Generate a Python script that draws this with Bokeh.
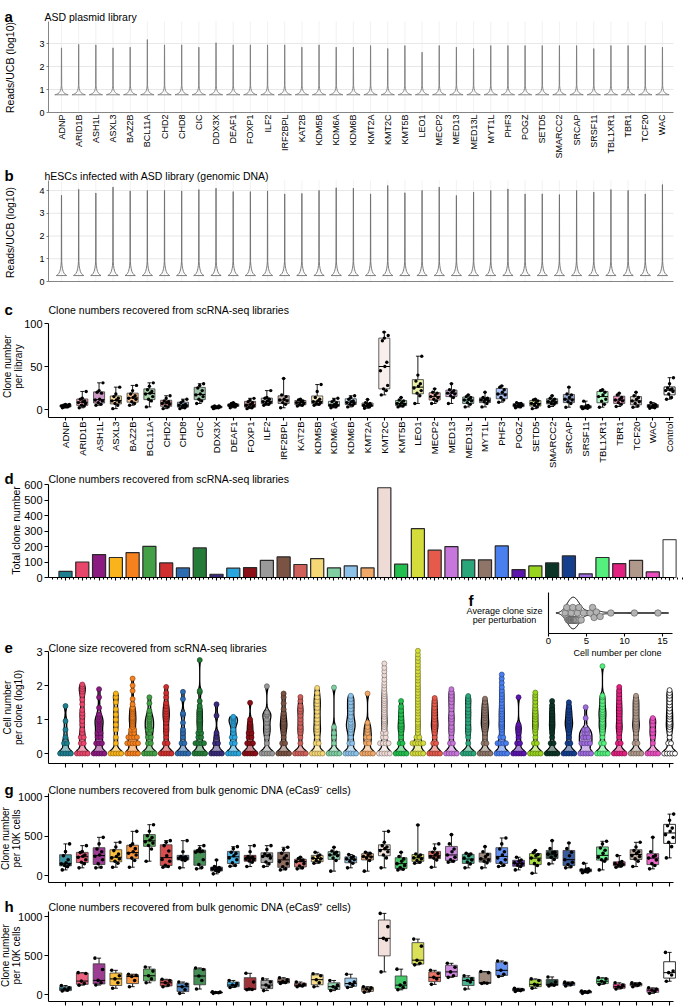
import math
import numpy as np
from bokeh.plotting import figure
from bokeh.models import Range1d, FixedTicker, Label, LinearAxis
from bokeh.layouts import column
from bokeh.embed import file_html
from bokeh.resources import INLINE

FONT = "Liberation Sans"

GENES = ["ADNP", "ARID1B", "ASH1L", "ASXL3", "BAZ2B", "BCL11A", "CHD2", "CHD8", "CIC",
         "DDX3X", "DEAF1", "FOXP1", "ILF2", "IRF2BPL", "KAT2B", "KDM5B", "KDM6A", "KDM6B",
         "KMT2A", "KMT2C", "KMT5B", "LEO1", "MECP2", "MED13", "MED13L", "MYT1L", "PHF3",
         "POGZ", "SETD5", "SMARCC2", "SRCAP", "SRSF11", "TBL1XR1", "TBR1", "TCF20", "WAC"]
CATS = GENES + ["Control"]
COLORS = ["#1d7f8f", "#e8476b", "#8b1b80", "#f9b41c", "#f6811d", "#44a047", "#cf2f2e",
          "#2e6cb2", "#257c39", "#3b2b79", "#2aa6df", "#8c1017", "#9a9a9a", "#7a5343",
          "#d0605a", "#f6d776", "#80cfa3", "#8cc2ea", "#f1a866", "#efdbd6", "#22bf4e",
          "#d4dc3b", "#e65a4b", "#c776db", "#2aa67b", "#8e7567", "#4a7ff0", "#5c16ad",
          "#98d31e", "#0c3427", "#153f8d", "#9f6ddf", "#54ef7d", "#e2207f", "#b0998b",
          "#ea4fbf", "#ffffff"]

# panel a / b : per-gene maximum of reads/UCB (log10) and base of the violins
PLASMID_TOP = [2.81, 2.96, 2.94, 2.81, 2.84, 3.17, 2.94, 2.94, 2.84, 3.03, 2.94, 2.94,
               2.94, 2.94, 2.84, 2.94, 2.84, 2.84, 2.91, 2.78, 2.91, 2.62, 2.91, 2.84,
               2.78, 2.91, 2.91, 2.91, 2.91, 2.91, 2.91, 2.78, 2.91, 2.91, 2.91, 2.84]
PLASMID_BASE = 0.77
GDNA_TOP = [3.79, 4.05, 3.89, 4.15, 3.98, 4.00, 4.00, 3.98, 4.04, 4.10, 3.95, 3.95,
            3.98, 3.85, 3.87, 4.00, 4.12, 4.10, 3.85, 4.22, 3.90, 4.00, 4.15, 3.78,
            3.93, 4.00, 4.07, 3.85, 3.85, 3.82, 4.00, 3.93, 4.04, 4.00, 3.85, 4.26]
GDNA_BASE = 0.26
# violin silhouette: height above base / half width (category units)
A_SHAPE_DY = [0.0, 0.02, 0.05, 0.09, 0.14, 0.20, 0.28, 0.40]
A_SHAPE_HW = [0.39, 0.30, 0.21, 0.14, 0.09, 0.055, 0.03, 0.012]
B_SHAPE_DY = [0.0, 0.04, 0.10, 0.18, 0.30, 0.45, 0.62]
B_SHAPE_HW = [0.30, 0.22, 0.15, 0.10, 0.06, 0.03, 0.012]

# panel c : clone number per library
C_POINTS = [
    [2, 3, 3, 4, 4, 4, 5, 5, 6, 6], [2, 4, 5, 7, 8, 9, 10, 12, 13, 21],
    [5, 6, 8, 10, 11, 12, 19, 20, 22, 31], [1, 5, 7, 9, 10, 11, 13, 15, 18, 26],
    [5, 7, 9, 12, 13, 14, 16, 18, 22, 28], [3, 10, 12, 15, 18, 19, 21, 23, 27, 31],
    [1, 3, 4, 6, 7, 8, 9, 10, 13, 16], [1, 2, 3, 4, 5, 5, 6, 8, 10, 12],
    [7, 10, 12, 15, 17, 18, 22, 25, 28, 30], [1, 2, 2, 3, 3, 3, 4, 4],
    [2, 3, 4, 5, 5, 6, 6, 7, 8], [1, 2, 3, 4, 5, 6, 8, 9, 11, 13],
    [5, 6, 7, 8, 9, 10, 12, 13, 14, 22], [2, 6, 8, 10, 11, 12, 15, 17, 36],
    [4, 5, 6, 7, 8, 9, 10, 11, 12], [5, 6, 7, 8, 9, 10, 12, 14, 21, 29],
    [2, 3, 4, 5, 5, 6, 8, 9, 11, 13], [3, 5, 6, 7, 8, 9, 10, 12, 14, 16],
    [1.5, 3, 4, 5, 5, 6, 7, 8, 11.6], [17, 22, 24, 28, 45, 50, 55, 80, 83, 86, 90],
    [3, 4, 5, 6, 7, 8, 10, 11, 14], [7, 16, 19, 22, 25, 27, 30, 33, 40, 62],
    [7, 10, 12, 14, 15, 17, 19, 20, 24], [7, 14, 16, 18, 19, 20, 22, 23, 30],
    [3, 6, 8, 10, 11, 12, 14, 15, 17], [3, 7, 9, 10, 11, 12, 13, 14, 20],
    [8.5, 11, 14, 17, 18, 20, 23, 26, 27.5], [2, 3, 4, 5, 5, 6, 7, 8],
    [1, 3, 5, 6, 7, 8, 10, 11, 12], [3.5, 6, 7, 8, 9, 10, 12, 13, 16],
    [2.7, 7, 9, 11, 12, 14, 17, 18, 26], [1, 1.5, 2, 3, 3, 4, 4.6, 9.7],
    [2.7, 6, 9.7, 12, 15, 17, 20, 22, 23], [3.5, 6, 8, 10, 11, 12, 14, 17, 19],
    [2.7, 4, 7, 9, 10, 12, 14, 16, 20], [1.5, 2, 3, 4, 4, 5, 6, 8],
    [12, 14, 18, 21, 22, 23, 24, 25, 30, 37]]

# panel d : total clone number
D_TOTALS = [40, 100, 148, 129, 161, 201, 94, 62, 191, 21, 60, 64, 111, 133, 84, 122, 62,
            75, 62, 579, 86, 315, 176, 199, 114, 114, 204, 51, 75, 94, 139, 24, 129, 90,
            111, 36, 244]

# panel f : average clone size per perturbation
F_AVG_SIZE = [2.2, 2.4, 2.5, 2.6, 2.7, 2.8, 2.8, 2.9, 3.0, 3.0, 3.1, 3.1, 3.2, 3.2, 3.3,
              3.3, 3.4, 3.4, 3.5, 3.5, 3.6, 3.6, 3.7, 3.8, 3.9, 4.0, 4.1, 4.3, 4.6, 5.5,
              5.8, 6.0, 6.3, 6.8, 8.2, 11.3, 14.4]

# panel e : clones of one cell (count) and cell numbers of the larger clones
E_N1 = [6, 8, 8, 6, 12, 8, 8, 8, 12, 6, 8, 10, 6, 8, 8, 6, 6, 6, 6, 12, 8, 12, 8, 8, 8,
        8, 10, 8, 10, 10, 8, 6, 8, 8, 8, 6, 8]
E_SIZES = [
    [2, 2, 3, 5, 9, 25],
    [2, 2, 3, 3, 4, 5, 7, 9, 12, 15, 19, 28, 38, 53, 66, 78, 92, 107],
    [2, 2, 2, 3, 3, 4, 4, 5, 6, 7, 8, 9, 10, 12, 14, 22, 45, 78],
    [2, 3, 5, 7, 10, 14, 20, 32, 45, 58],
    [2, 2, 2, 2, 2, 2, 3, 3, 3, 3, 4, 4, 5, 5, 6, 7, 8, 9, 10, 11, 12, 14, 16, 18, 20, 22,
     28, 40, 70, 100, 160],
    [2, 2, 3, 3, 4, 5, 5, 6, 7, 8, 9, 10, 12, 14, 18, 30, 45],
    [2, 2, 3, 4, 5, 6, 8, 10, 12, 14, 17, 20, 25, 30, 45, 60, 91],
    [2, 2, 3, 4, 5, 8, 14, 15, 40, 65],
    [2, 2, 2, 2, 3, 3, 4, 4, 5, 6, 7, 8, 9, 10, 12, 14, 16, 18, 20, 25, 35, 63, 70, 560],
    [2, 2, 3, 4, 13, 28],
    [2, 2, 3, 3, 4, 5, 7, 8, 9, 10, 11, 12],
    [2, 2, 2, 3, 3, 4, 4, 5, 6, 7, 8, 10, 31],
    [2, 3, 4, 5, 6, 8, 10, 13, 14, 16, 95],
    [2, 2, 3, 4, 5, 6, 7, 8, 10, 12, 15, 20, 30, 45, 58],
    [2, 3, 4, 5, 6, 8, 10, 13, 17, 20, 25, 35, 46],
    [2, 2, 3, 4, 5, 6, 8, 10, 13, 17, 22, 28, 35, 45, 60, 85],
    [2, 3, 4, 6, 87],
    [2, 2, 3, 4, 5, 6, 7, 8, 10, 12, 16, 20, 25, 32, 40, 50],
    [2, 2, 3, 3, 4, 5, 6, 8, 58],
    [2, 2, 2, 2, 3, 3, 4, 4, 5, 6, 7, 8, 9, 10, 12, 14, 16, 19, 22, 26, 30, 35, 40, 48, 56,
     65, 80, 100, 120, 150, 200, 260, 330, 445],
    [2, 2, 3, 4, 5, 6, 7, 9, 11, 14, 18, 24, 35],
    [2, 2, 2, 2, 2, 2, 3, 3, 4, 5, 6, 7, 8, 10, 12, 15, 18, 22, 27, 33, 40, 50, 60, 75, 90,
     110, 140, 170, 210, 260, 330, 410, 520, 650, 820, 1050],
    [2, 2, 3, 4, 5, 6, 7, 8, 10, 12, 15, 18, 22, 28, 35, 43],
    [2, 2, 3, 4, 5, 6, 8, 10, 12, 15, 20, 25, 32, 40, 50, 62, 78],
    [2, 3, 4, 5, 6, 8, 10, 13, 16, 20, 26, 33, 40, 49],
    [2, 2, 3, 4, 5, 6, 7, 8, 9, 11, 13, 15, 18, 22, 26, 32, 41],
    [2, 2, 2, 2, 3, 3, 4, 5, 6, 7, 8, 10, 12, 14, 17, 20, 25, 30, 38, 46, 56, 70, 90, 120,
     160, 210],
    [2, 2, 3, 4, 5, 6, 7, 45],
    [2, 2, 3, 4, 5, 6, 7, 8, 10, 12, 14, 17, 21, 26, 33, 42, 52, 62],
    [2, 2, 3, 4, 5, 6, 7, 8, 10, 12, 14, 17, 21, 26, 35],
    [2, 2, 3, 4, 5, 6, 7, 8, 9, 11, 13, 16, 19, 24, 32],
    [2, 2, 2, 2, 3, 3, 3, 4, 4, 5, 5, 11, 23],
    [2, 2, 3, 4, 5, 6, 7, 8, 10, 12, 14, 16, 19, 23, 28, 35, 45, 50, 370],
    [2, 2, 3, 4, 5, 6, 7, 9, 11, 14, 17, 21, 26, 33, 42, 55, 70, 91],
    [2, 2, 3, 4, 5, 6, 7, 8, 10, 12, 15, 18, 22, 27, 33, 40, 50],
    [2, 3, 4, 5, 7, 9, 11],
    [2, 2, 3, 4, 5, 6, 7, 8, 10, 12, 14, 17, 21, 26, 32, 40, 50, 60, 73]]

# panel g : clone number per 10K cells (eCas9- cells)
G_POINTS = [
    [71, 110, 126, 140, 147, 160, 200, 250, 302, 400], [97, 150, 168, 200, 230, 244, 260, 290, 302, 378],
    [97, 105, 150, 200, 244, 260, 300, 336, 400, 483], [105, 155, 180, 210, 223, 240, 270, 315, 360, 420],
    [105, 189, 220, 260, 281, 300, 340, 378, 400, 559], [181, 336, 380, 410, 428, 450, 480, 504, 560, 643],
    [105, 113, 130, 180, 202, 250, 310, 378, 420, 441], [97, 189, 200, 210, 218, 225, 232, 240, 300, 441],
    [84, 100, 139, 200, 294, 300, 310, 315, 340, 378], [21, 50, 63, 75, 84, 90, 100, 113, 197],
    [118, 126, 160, 200, 223, 250, 280, 294, 340, 365], [113, 168, 185, 200, 210, 220, 230, 240, 300, 378],
    [113, 147, 170, 220, 240, 250, 260, 273, 330, 378], [71, 84, 110, 150, 176, 220, 250, 281, 330, 357],
    [84, 97, 120, 150, 176, 190, 197, 215, 231], [155, 170, 190, 210, 220, 240, 260, 294],
    [55, 189, 220, 250, 260, 280, 294, 310, 357], [97, 155, 180, 200, 210, 225, 240, 265],
    [55, 189, 220, 235, 240, 260, 281, 294], [97, 223, 260, 300, 315, 340, 360, 378, 420, 559],
    [71, 80, 100, 126, 150, 180, 210, 240, 294], [155, 168, 190, 210, 223, 240, 260, 273, 639],
    [105, 197, 220, 235, 240, 260, 280, 294, 340, 400], [168, 181, 200, 231, 260, 300, 336, 400, 517],
    [97, 147, 170, 197, 220, 250, 273, 281], [97, 160, 180, 197, 210, 240, 265, 300, 365],
    [113, 130, 160, 200, 223, 260, 300, 336, 400, 475], [71, 113, 130, 147, 160, 180, 197, 231],
    [29, 126, 150, 197, 220, 250, 265, 290, 315], [147, 202, 230, 252, 270, 290, 294, 340, 441],
    [97, 110, 140, 168, 200, 250, 294, 340, 412], [34, 45, 55, 63, 70, 80, 84, 155],
    [71, 181, 200, 210, 230, 280, 320, 349, 400, 433], [105, 120, 130, 139, 150, 165, 176, 252],
    [113, 181, 210, 240, 252, 280, 300, 315, 360, 420], [84, 126, 150, 197, 220, 240, 252, 300, 483],
    [223, 365, 420, 480, 517, 560, 600, 630, 700, 777]]

# panel h : clone number per 10K cells (eCas9+ cells)
H_POINTS = [
    [45, 55, 70, 85, 115], [120, 140, 172, 270, 280], [121, 150, 181, 320, 466],
    [80, 150, 200, 240, 310], [100, 180, 230, 245, 260], [150, 200, 240, 300, 353],
    [100, 120, 150, 180, 195], [15, 60, 100, 130, 160], [70, 180, 237, 320, 340],
    [15, 22, 26, 30, 35], [90, 110, 121, 140, 180], [60, 65, 70, 160, 272],
    [50, 100, 121, 160, 200], [140, 155, 165, 190, 215], [100, 110, 120, 130, 160],
    [100, 150, 190, 240, 265], [50, 80, 100, 120, 180], [90, 120, 140, 160, 260],
    [30, 50, 70, 85, 100], [290, 700, 720, 870, 1040], [60, 90, 120, 150, 325],
    [380, 400, 440, 620, 710], [130, 200, 220, 270, 310], [220, 240, 290, 350, 400],
    [70, 160, 180, 200, 240], [140, 145, 150, 280, 295], [230, 260, 310, 400, 430],
    [40, 50, 60, 65, 80], [80, 120, 130, 180, 200], [110, 120, 130, 160, 225],
    [110, 125, 140, 150, 160], [15, 25, 35, 40, 45], [130, 150, 170, 200, 215],
    [70, 90, 100, 120, 150], [100, 120, 130, 140, 150], [15, 40, 55, 70, 85],
    [170, 250, 280, 300, 540]]

# ---------------------------------------------------------------- layout (page pixels)
W = 685
AXIS_X, AXIS_END = 48, 673          # y axes and end of x axes
A_FIRST, A_STEP = 61, 17.17          # first gene / spacing, panels a-b
C_FIRST, C_STEP = 65, 16.78          # first category / spacing, panels c-h
F_X0, F_X1, F_SCALE = 548, 672, 7.6  # inset f: x axis position and px per unit
F_YTOP, F_YBOT = 592, 633            # inset f: vertical extent
JITTER = [-0.55, 0.35, -0.15, 0.6, -0.7, 0.1, 0.45, -0.35, 0.0, 0.7, -0.05, 0.25]
FIG_BOTTOM = {}


def xv(px, first, step):
    return (px - first) / step


def make_panel(top, bot, first, step, v_lo, px_lo, v_hi, px_hi, bounds):
    s = (v_hi - v_lo) / (px_lo - px_hi)
    yr = Range1d(v_lo - (bot - px_lo) * s, v_hi + (px_hi - top) * s)
    xr = Range1d(xv(0, first, step), xv(W, first, step))
    p = figure(width=W, height=bot - top, x_range=xr, y_range=yr, output_backend="svg",
               toolbar_location=None, min_border_left=0, min_border_right=0,
               min_border_top=0, min_border_bottom=0)
    p.outline_line_color = None
    p.xgrid.visible = False
    p.ygrid.visible = False
    p.border_fill_color = "white"
    p.background_fill_color = "white"
    p.yaxis.fixed_location = xv(AXIS_X, first, step)
    p.yaxis.bounds = bounds
    p.xaxis.fixed_location = bounds[0]
    p.xaxis.bounds = (xv(AXIS_X, first, step), xv(AXIS_END, first, step))
    FIG_BOTTOM[p.id] = bot
    return p


def style_axis(ax, color="black", width=1.1, tick_out=4, font_size="11px"):
    ax.axis_line_color = color
    ax.axis_line_width = width
    ax.major_tick_line_color = color
    ax.major_tick_line_width = width
    ax.major_tick_out = tick_out
    ax.major_tick_in = 0
    ax.minor_tick_line_color = None
    ax.major_label_text_font = FONT
    ax.major_label_text_font_size = font_size
    ax.major_label_text_color = "black"
    ax.major_label_standoff = 2


def style_axes(p, **kw):
    for ax in p.axis:
        style_axis(ax, **kw)


def cat_axis(p, n, labels=None, font_size="9.5px"):
    p.xaxis.ticker = FixedTicker(ticks=list(range(n)))
    if labels is None:
        p.xaxis.major_label_overrides = {i: "" for i in range(n)}
        p.xaxis.major_label_text_font_size = "0px"
        p.xaxis.major_label_standoff = 0
    else:
        p.xaxis.major_label_overrides = {i: t for i, t in enumerate(labels)}
        p.xaxis.major_label_orientation = math.pi / 2
        p.xaxis.major_label_text_font_size = font_size


def txt(p, px, py, text, size="10.5px", bold=False, align="left", baseline="alphabetic",
        angle=0):
    # px, py: page position of the text anchor
    p.add_layout(Label(x=px, y=FIG_BOTTOM[p.id] - py, x_units="screen",
                       y_units="screen", text=text, text_font=FONT, text_font_size=size,
                       text_font_style="bold" if bold else "normal",
                       text_align=align, text_baseline=baseline, angle=angle,
                       angle_units="deg", text_color="black", text_line_height=1.0))


def panel_title(p, py, letter, title, tx=48):
    txt(p, 4, py, letter, size="15px", bold=True)
    txt(p, tx, py, title, size="10.5px")


def ylab(p, px, py, text, size="10.5px"):
    txt(p, px, py, text, size=size, align="center", baseline="middle", angle=90)


def darker(hexcol, f=0.6):
    h = hexcol.lstrip("#")
    r, g, b = (int(h[k:k + 2], 16) for k in (0, 2, 4))
    return "#%02x%02x%02x" % (int(r * f), int(g * f), int(b * f))


def thin_violins(tops, base, dy, hw, tail=0.004):
    xs, ys = [], []
    for i, top in enumerate(tops):
        yy = [base + d for d in dy] + [top]
        ww = list(hw) + [tail]
        xs.append([i - w for w in ww] + [i + w for w in ww[::-1]])
        ys.append(yy + yy[::-1])
    return xs, ys


def light_grid(p, n, yticks, vmax):
    x0, x1 = xv(AXIS_X, A_FIRST, A_STEP), xv(AXIS_END, A_FIRST, A_STEP)
    p.segment(x0=list(range(n)), y0=[0] * n, x1=list(range(n)), y1=[vmax] * n,
              line_color="#eeeeee", line_width=0.8)
    p.segment(x0=[x0] * len(yticks), y0=yticks, x1=[x1] * len(yticks), y1=yticks,
              line_color="#e2e2e2", line_width=0.8)


def draw_boxes(p, points, alpha, half_w, pt_size=3.6):
    n = len(points)
    stats = np.array([[min(v), *np.percentile(np.asarray(v, float), [25, 50, 75],
                                              method="weibull"), max(v)] for v in points])
    lo, q1, med, q3, hi = stats.T
    x = np.arange(n)
    cap = half_w * 0.35
    p.segment(x0=x, y0=lo, x1=x, y1=q1, line_color="black", line_width=0.9)
    p.segment(x0=x, y0=q3, x1=x, y1=hi, line_color="black", line_width=0.9)
    p.segment(x0=x - cap, y0=lo, x1=x + cap, y1=lo, line_color="black", line_width=0.9)
    p.segment(x0=x - cap, y0=hi, x1=x + cap, y1=hi, line_color="black", line_width=0.9)
    lines = ["#3a3a3a"] * (n - 1) + ["black"]
    p.quad(left=x - half_w, right=x + half_w, bottom=q1, top=q3, fill_color=COLORS[:n],
           fill_alpha=alpha, line_color=lines, line_width=0.8)
    p.segment(x0=x - half_w, y0=med, x1=x + half_w, y1=med, line_color="black",
              line_width=1.0)
    px, py = [], []
    for i, vals in enumerate(points):
        for k, v in enumerate(vals):
            px.append(i + JITTER[k % len(JITTER)] * half_w)
            py.append(v)
    p.scatter(x=px, y=py, size=pt_size, fill_color="black", line_color=None)


# ---------------------------------------------------------------- panel a
pa = make_panel(0, 163, A_FIRST, A_STEP, 0, 112, 3, 43, (0, 3.96))
style_axes(pa, color="#666666", width=0.8, tick_out=0, font_size="9px")
cat_axis(pa, 36, GENES, font_size="9px")
pa.yaxis.ticker = FixedTicker(ticks=[0, 1, 2, 3])
pa.yaxis.major_tick_out = 2
light_grid(pa, 36, [1, 2, 3], 3.96)
xs, ys = thin_violins(PLASMID_TOP, PLASMID_BASE, A_SHAPE_DY, A_SHAPE_HW)
pa.patches(xs, ys, fill_color=None, line_color="#7d7d7d", line_width=0.9)
panel_title(pa, 16, "a", "ASD plasmid library", tx=44)
ylab(pa, 9, 67, "Reads/UCB (log10)")

# ---------------------------------------------------------------- panel b
pb = make_panel(163, 290, A_FIRST, A_STEP, 0, 281, 4, 190, (0, 4.44))
style_axes(pb, color="#666666", width=0.8, tick_out=0, font_size="9px")
cat_axis(pb, 36)
pb.yaxis.ticker = FixedTicker(ticks=[0, 1, 2, 3, 4])
pb.yaxis.major_tick_out = 2
light_grid(pb, 36, [1, 2, 3, 4], 4.44)
xs, ys = thin_violins(GDNA_TOP, GDNA_BASE, B_SHAPE_DY, B_SHAPE_HW)
pb.patches(xs, ys, fill_color=None, line_color="#6f6f6f", line_width=0.9)
panel_title(pb, 175, "b", "hESCs infected with ASD library (genomic DNA)", tx=44)
ylab(pb, 9, 232, "Reads/UCB (log10)")

# ---------------------------------------------------------------- panel c
pc = make_panel(290, 468, C_FIRST, C_STEP, 0, 409, 100, 323, (-9.3, 100))
style_axes(pc)
cat_axis(pc, 37, CATS, font_size="9.5px")
pc.xaxis.major_tick_out = 3
pc.xaxis.major_label_standoff = 1
pc.yaxis.ticker = FixedTicker(ticks=[0, 50, 100])
draw_boxes(pc, C_POINTS, 0.45, 0.33, pt_size=3.4)
panel_title(pc, 309, "c", "Clone numbers recovered from scRNA-seq libraries")
ylab(pc, 12, 366, "Clone number\nper library", size="10px")

# ---------------------------------------------------------------- panel d
pd_ = make_panel(468, 582, C_FIRST, C_STEP, 0, 577, 600, 484, (0, 600))
style_axes(pd_)
cat_axis(pd_, 37)
pd_.xaxis.major_tick_out = 3
pd_.xaxis.ticker = FixedTicker(ticks=list(range(37)),
                               minor_ticks=[i + k * 0.25 for i in range(-1, 37) for k in (1, 2, 3)])
pd_.xaxis.minor_tick_line_color = "black"
pd_.xaxis.minor_tick_out = 2
pd_.xaxis.minor_tick_in = 0
pd_.yaxis.ticker = FixedTicker(ticks=[0, 100, 200, 300, 400, 500, 600])
pd_.vbar(x=list(range(37)), top=D_TOTALS, width=0.78, bottom=0, fill_color=COLORS,
         line_color=["#2a2a2a"] * 36 + ["#555555"], line_width=1.2)
panel_title(pd_, 478, "d", "Clone numbers recovered from scRNA-seq libraries")
ylab(pd_, 15, 530, "Total clone number")

# ---------------------------------------------------------------- panel e (with inset f)
pe = make_panel(582, 768, C_FIRST, C_STEP, 0, 753, 3, 651, (-0.29, 3.0))
style_axes(pe)
cat_axis(pe, 37)
pe.yaxis.ticker = FixedTicker(ticks=[0, 1, 2, 3])
vx, vy = [], []
cx, cy, cfill, cline = [], [], [], []
for i in range(37):
    v = np.log10(np.asarray([1] * E_N1[i] + E_SIZES[i], float))
    grid = np.linspace(0, v.max(), 160)
    dens = np.exp(-0.5 * ((grid[:, None] - v[None, :]) / 0.11) ** 2).sum(axis=1)
    hw = dens / dens.max() * 0.42
    vx.append(np.concatenate([i - hw, (i + hw)[::-1]]))
    vy.append(np.concatenate([grid, grid[::-1]]))
    uv, cnt = np.unique(v, return_counts=True)
    for val, n in zip(uv, cnt):
        m = min(int(n), 5)
        s = min(0.085 * (m - 1), 0.32)
        offs = np.linspace(-s, s, m) if m > 1 else [0.0]
        for o in offs:
            cx.append(i + o)
            cy.append(val)
            cfill.append(COLORS[i])
            cline.append("black" if i == 36 else darker(COLORS[i]))
pe.patches(vx, vy, fill_color=COLORS, fill_alpha=0.5, line_color="black", line_width=1.3)
pe.scatter(x=cx, y=cy, size=5, fill_color=cfill, line_color=cline, line_width=0.7)
panel_title(pe, 647, "e", "Clone size recovered from scRNA-seq libraries")
ylab(pe, 12.5, 707, "Cell number\nper clone (log10)", size="10px")

# inset f drawn on its own ranges inside the same canvas
F_MAX = (F_X1 - F_X0) / F_SCALE
f_sy = (F_YBOT - F_YTOP) / 2.2
pe.extra_x_ranges = {"fx": Range1d(-F_X0 / F_SCALE, (W - F_X0) / F_SCALE)}
pe.extra_y_ranges = {"fy": Range1d(-1.1 - (768 - F_YBOT) / f_sy, 1.1 + (F_YTOP - 582) / f_sy)}
fax = LinearAxis(x_range_name="fx", y_range_name="fy", fixed_location=-1.1,
                 bounds=(0, F_MAX), ticker=FixedTicker(ticks=[0, 5, 10, 15]))
style_axis(fax, tick_out=3, font_size="9.5px")
fax.major_label_standoff = 1
pe.add_layout(fax, "below")
fay = LinearAxis(x_range_name="fx", y_range_name="fy", fixed_location=0,
                 bounds=(-1.1, 1.1), ticker=FixedTicker(ticks=[]))
style_axis(fay)
pe.add_layout(fay, "left")
fv = np.asarray(F_AVG_SIZE, float)
fgrid = np.linspace(fv.min() - 1.2, fv.max() + 1.4, 220)
fden = np.exp(-0.5 * ((fgrid[:, None] - fv[None, :]) / 0.55) ** 2).sum(axis=1)
fhw = fden / fden.max() * 0.85
pe.patch(np.concatenate([fgrid, fgrid[::-1]]), np.concatenate([fhw, -fhw[::-1]]),
         fill_color="white", line_color="black", line_width=1.0,
         x_range_name="fx", y_range_name="fy")
# beeswarm (pixel space) so that circles spread instead of stacking on one line
placed = []
for xval in np.sort(fv):
    xpx = xval * F_SCALE
    best = 0.0
    for step in range(0, 29):
        off = (step + 1) // 2 * 0.5 * (1 if step % 2 else -1)
        best = off
        if all((xpx - a) ** 2 + (off - b) ** 2 >= 5.6 ** 2 for a, b in placed):
            break
    placed.append((xpx, best))
pe.scatter(x=[a / F_SCALE for a, b in placed], y=[b / f_sy for a, b in placed], size=6.5,
           fill_color="#b3b3b3", line_color="#555555", line_width=0.6,
           x_range_name="fx", y_range_name="fy")
txt(pe, 468, 600, "f", size="15px", bold=True)
txt(pe, 504, 610, "Average clone size", size="9px", align="center")
txt(pe, 504, 619, "per perturbation", size="9px", align="center")
txt(pe, 617, 652, "Cell number per clone", size="9px", align="center")

# ---------------------------------------------------------------- panel g
pg = make_panel(768, 888, C_FIRST, C_STEP, 0, 875, 1000, 796, (-89, 1035))
style_axes(pg)
cat_axis(pg, 37)
pg.yaxis.ticker = FixedTicker(ticks=[0, 500, 1000])
draw_boxes(pg, G_POINTS, 0.85, 0.35)
panel_title(pg, 789, "g", "Clone numbers recovered from bulk genomic DNA (eCas9\u207b cells)")
ylab(pg, 10, 838, "Clone number\nper 10K cells", size="10px")

# ---------------------------------------------------------------- panel h
ph = make_panel(888, 1006, C_FIRST, C_STEP, 0, 994, 1000, 916, (-90, 1060))
style_axes(ph)
cat_axis(ph, 37)
ph.yaxis.ticker = FixedTicker(ticks=[0, 500, 1000])
draw_boxes(ph, H_POINTS, 0.85, 0.35)
panel_title(ph, 906, "h", "Clone numbers recovered from bulk genomic DNA (eCas9\u207a cells)")
ylab(ph, 10, 955, "Clone number\nper 10K cells", size="10px")

layout = column(pa, pb, pc, pd_, pe, pg, ph)
open("out.html", "w").write(file_html(layout, INLINE))
